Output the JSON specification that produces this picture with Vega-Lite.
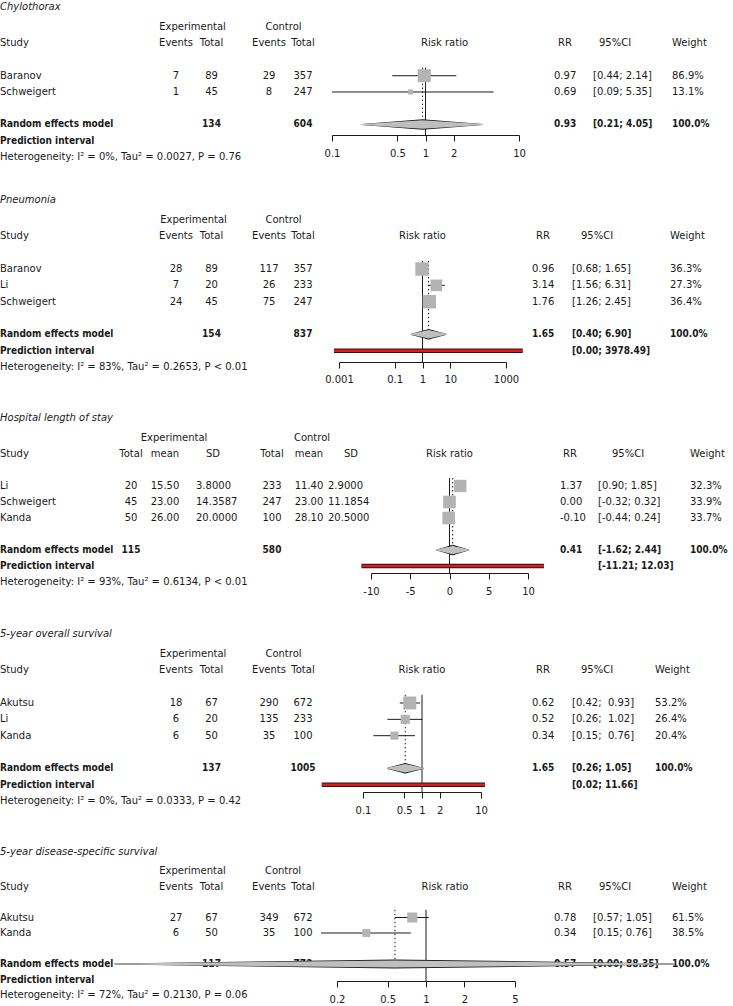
{
"$schema":"https://vega.github.io/schema/vega-lite/v6.json",
"padding":0,"background":"white","bounds":"flush","spacing":0,
"config":{"view":{"stroke":null},"font":"DejaVu Sans","text":{"font":"DejaVu Sans","fontSize":10,"color":"#1a1a1a"}},
"resolve":{"scale":{"size":"independent"}},
"vconcat":[
{
"width":733,"height":135,
"data":{"values":[
{"row":"title","label":"Chylothorax"},
{"row":"hdr1","e":"Experimental","c":"Control"},
{"row":"hdr2","label":"Study","e_ev":"Events","e_n":"Total","c_ev":"Events","c_n":"Total","rr":"RR","ci":"95%CI","w":"Weight","sm":"Risk ratio"},
{"row":"Baranov","label":"Baranov","e_ev":"7","e_n":"89","c_ev":"29","c_n":"357","rr":"0.97","ci":"[0.44; 2.14]","w":"86.9%","est":0.97,"lo":0.44,"hi":2.14,"weight":86.9},
{"row":"Schweigert","label":"Schweigert","e_ev":"1","e_n":"45","c_ev":"8","c_n":"247","rr":"0.69","ci":"[0.09; 5.35]","w":"13.1%","est":0.69,"lo":0.09,"hi":5.35,"weight":13.1},
{"row":"re","label":"Random effects model","e_n":"134","c_n":"604","rr":"0.93","ci":"[0.21; 4.05]","w":"100.0%","est":0.93,"lo":0.21,"hi":4.05},
{"row":"pi","label":"Prediction interval"},
{"row":"het","label":"Heterogeneity: I² = 0%, Tau² = 0.0027, P = 0.76"}
]},
"encoding":{"y":{"field":"row","type":"nominal","scale":{"type":"band","domain":["title","hdr1","hdr2","gap1","Baranov","Schweigert","gap2","re","pi","het"],"range":[2.6,165.1],"paddingInner":0,"paddingOuter":0},"axis":null}},
"resolve":{"scale":{"x":"independent","size":"independent"}},
"layer":[
{"transform":[{"fold":["label","w"],"as":["col","txt"]},{"filter":"isValid(datum.txt)"}],
 "encoding":{"x":{"field":"col","type":"nominal","scale":{"type":"point","domain":["label","w"],"range":[0,672],"padding":0},"axis":null},"text":{"field":"txt"}},
 "layer":[
  {"transform":[{"filter":{"not":{"field":"row","oneOf":["title","re","pi"]}}}],"mark":{"type":"text","align":"left"}},
  {"transform":[{"filter":{"field":"row","oneOf":["re","pi"]}}],"mark":{"type":"text","align":"left","fontWeight":"bold","font":"DejaVu Sans Condensed, DejaVu Sans"}},
  {"transform":[{"filter":{"field":"row","equal":"title"}}],"mark":{"type":"text","align":"left","fontStyle":"italic","dy":-4}}
 ]},
{"transform":[{"fold":["e","c"],"as":["col","txt"]},{"filter":"isValid(datum.txt)"}],"mark":{"type":"text"},
 "encoding":{"x":{"field":"col","type":"nominal","scale":{"type":"point","domain":["e","c"],"range":[192.5,283.5],"padding":0},"axis":null},"text":{"field":"txt"}}},
{"transform":[{"fold":["e_ev","e_n"],"as":["col","txt"]},{"filter":"isValid(datum.txt)"}],
 "encoding":{"x":{"field":"col","type":"nominal","scale":{"type":"point","domain":["e_ev","e_n"],"range":[176,211.5],"padding":0},"axis":null},"text":{"field":"txt"}},
 "layer":[
  {"transform":[{"filter":{"not":{"field":"row","equal":"re"}}}],"mark":{"type":"text"}},
  {"transform":[{"filter":{"field":"row","equal":"re"}}],"mark":{"type":"text","fontWeight":"bold","font":"DejaVu Sans Condensed, DejaVu Sans"}}
 ]},
{"transform":[{"fold":["c_ev","c_n"],"as":["col","txt"]},{"filter":"isValid(datum.txt)"}],
 "encoding":{"x":{"field":"col","type":"nominal","scale":{"type":"point","domain":["c_ev","c_n"],"range":[269,303],"padding":0},"axis":null},"text":{"field":"txt"}},
 "layer":[
  {"transform":[{"filter":{"not":{"field":"row","equal":"re"}}}],"mark":{"type":"text"}},
  {"transform":[{"filter":{"field":"row","equal":"re"}}],"mark":{"type":"text","fontWeight":"bold","font":"DejaVu Sans Condensed, DejaVu Sans"}}
 ]},
{"transform":[{"filter":{"field":"row","equal":"hdr2"}},{"fold":["rr","ci"],"as":["col","txt"]}],"mark":{"type":"text"},
 "encoding":{"x":{"field":"col","type":"nominal","scale":{"type":"point","domain":["rr","ci"],"range":[565,615],"padding":0},"axis":null},"text":{"field":"txt"}}},
{"transform":[{"filter":{"not":{"field":"row","equal":"hdr2"}}},{"fold":["rr","ci"],"as":["col","txt"]},{"filter":"isValid(datum.txt)"}],
 "encoding":{"x":{"field":"col","type":"nominal","scale":{"type":"point","domain":["rr","ci"],"range":[554,593],"padding":0},"axis":null},"text":{"field":"txt"}},
 "layer":[
  {"transform":[{"filter":{"not":{"field":"row","oneOf":["re","pi"]}}}],"mark":{"type":"text","align":"left"}},
  {"transform":[{"filter":{"field":"row","oneOf":["re","pi"]}}],"mark":{"type":"text","align":"left","fontWeight":"bold","font":"DejaVu Sans Condensed, DejaVu Sans"}}
 ]},
{"transform":[{"filter":{"field":"weight","valid":true}}],"mark":{"type":"rule","color":"#1a1a1a","strokeWidth":1},
 "encoding":{"x":{"field":"lo","type":"quantitative","scale":{"type":"log","domain":[0.1,10],"range":[332,519],"nice":false,"clamp":true},
  "axis":{"orient":"bottom","values":[0.1,0.5,1,2,10],"labelExpr":"'' + datum.value","title":null,"grid":false,"domainColor":"#1a1a1a","tickColor":"#1a1a1a","tickSize":6,"labelFontSize":10,"labelFont":"DejaVu Sans","labelColor":"#1a1a1a","labelPadding":7,"labelFlush":false,"labelOverlap":false}},
  "x2":{"field":"hi"}}},
{"layer":[
 {"transform":[{"filter":{"field":"row","equal":"re"}}],"mark":{"type":"rule","color":"#1a1a1a","strokeWidth":1},
  "encoding":{"x":{"datum":1,"type":"quantitative","scale":{"type":"log","domain":[0.1,10],"range":[332,519],"nice":false},"axis":null},"y":{"datum":"Baranov","type":"nominal","bandPosition":0},"y2":{"value":"height"}}},
 {"transform":[{"filter":{"field":"row","equal":"re"}}],"mark":{"type":"rule","color":"#1a1a1a","strokeWidth":1,"strokeDash":[1.5,2.5]},
  "encoding":{"x":{"field":"est","type":"quantitative","axis":null},"y":{"datum":"Baranov","type":"nominal","bandPosition":0},"y2":{"datum":"re"}}},
 {"transform":[{"filter":{"field":"row","equal":"re"}},{"fold":["lo","est","hi"],"as":["part","xv"]}],"mark":{"type":"trail","color":"#1a1a1a"},
  "encoding":{"x":{"field":"xv","type":"quantitative","axis":null},"size":{"condition":{"test":"datum.part === 'est'","value":10.5},"value":1.2}}},
 {"transform":[{"filter":{"field":"row","equal":"re"}},{"fold":["lo","est","hi"],"as":["part","xv"]}],"mark":{"type":"trail","color":"#bfbfbf"},
  "encoding":{"x":{"field":"xv","type":"quantitative","axis":null},"size":{"condition":{"test":"datum.part === 'est'","value":8.5},"value":0}}},
 {"transform":[{"filter":{"field":"weight","valid":true}}],"mark":{"type":"point","shape":"square","filled":true,"color":"#b3b3b3","opacity":1},
  "encoding":{"x":{"field":"est","type":"quantitative","axis":null},"size":{"field":"weight","type":"quantitative","scale":{"domain":[0,86.9],"range":[0,170]},"legend":null}}},
 {"transform":[{"filter":{"field":"row","equal":"hdr2"}}],"mark":{"type":"text"},
  "encoding":{"x":{"datum":1.6,"type":"quantitative","axis":null},"text":{"field":"sm"}}}
]}
]
},
{
"width":733,"height":227,
"data":{"values":[
{"row":"title","label":"Pneumonia"},
{"row":"hdr1","e":"Experimental","c":"Control"},
{"row":"hdr2","label":"Study","e_ev":"Events","e_n":"Total","c_ev":"Events","c_n":"Total","rr":"RR","ci":"95%CI","w":"Weight","sm":"Risk ratio"},
{"row":"Baranov","label":"Baranov","e_ev":"28","e_n":"89","c_ev":"117","c_n":"357","rr":"0.96","ci":"[0.68; 1.65]","w":"36.3%","est":0.96,"lo":0.68,"hi":1.65,"weight":36.3},
{"row":"Li","label":"Li","e_ev":"7","e_n":"20","c_ev":"26","c_n":"233","rr":"3.14","ci":"[1.56; 6.31]","w":"27.3%","est":3.14,"lo":1.56,"hi":6.31,"weight":27.3},
{"row":"Schweigert","label":"Schweigert","e_ev":"24","e_n":"45","c_ev":"75","c_n":"247","rr":"1.76","ci":"[1.26; 2.45]","w":"36.4%","est":1.76,"lo":1.26,"hi":2.45,"weight":36.4},
{"row":"re","label":"Random effects model","e_n":"154","c_n":"837","rr":"1.65","ci":"[0.40; 6.90]","w":"100.0%","est":1.65,"lo":0.40,"hi":6.90},
{"row":"pi","label":"Prediction interval","ci":"[0.00; 3978.49]","lo":0.00066,"hi":3978.49},
{"row":"het","label":"Heterogeneity: I² = 83%, Tau² = 0.2653, P < 0.01"}
]},
"encoding":{"y":{"field":"row","type":"nominal","scale":{"type":"band","domain":["title","hdr1","hdr2","gap1","Baranov","Li","Schweigert","gap2","re","pi","het"],"range":[60.5,240.2],"paddingInner":0,"paddingOuter":0},"axis":null}},
"resolve":{"scale":{"x":"independent","size":"independent"}},
"layer":[
{"transform":[{"fold":["label","w"],"as":["col","txt"]},{"filter":"isValid(datum.txt)"}],
 "encoding":{"x":{"field":"col","type":"nominal","scale":{"type":"point","domain":["label","w"],"range":[0,670],"padding":0},"axis":null},"text":{"field":"txt"}},
 "layer":[
  {"transform":[{"filter":{"not":{"field":"row","oneOf":["title","re","pi"]}}}],"mark":{"type":"text","align":"left"}},
  {"transform":[{"filter":{"field":"row","oneOf":["re","pi"]}}],"mark":{"type":"text","align":"left","fontWeight":"bold","font":"DejaVu Sans Condensed, DejaVu Sans"}},
  {"transform":[{"filter":{"field":"row","equal":"title"}}],"mark":{"type":"text","align":"left","fontStyle":"italic","dy":-4}}
 ]},
{"transform":[{"fold":["e","c"],"as":["col","txt"]},{"filter":"isValid(datum.txt)"}],"mark":{"type":"text"},
 "encoding":{"x":{"field":"col","type":"nominal","scale":{"type":"point","domain":["e","c"],"range":[193.5,283.5],"padding":0},"axis":null},"text":{"field":"txt"}}},
{"transform":[{"fold":["e_ev","e_n"],"as":["col","txt"]},{"filter":"isValid(datum.txt)"}],
 "encoding":{"x":{"field":"col","type":"nominal","scale":{"type":"point","domain":["e_ev","e_n"],"range":[176,211.5],"padding":0},"axis":null},"text":{"field":"txt"}},
 "layer":[
  {"transform":[{"filter":{"not":{"field":"row","equal":"re"}}}],"mark":{"type":"text"}},
  {"transform":[{"filter":{"field":"row","equal":"re"}}],"mark":{"type":"text","fontWeight":"bold","font":"DejaVu Sans Condensed, DejaVu Sans"}}
 ]},
{"transform":[{"fold":["c_ev","c_n"],"as":["col","txt"]},{"filter":"isValid(datum.txt)"}],
 "encoding":{"x":{"field":"col","type":"nominal","scale":{"type":"point","domain":["c_ev","c_n"],"range":[269,303],"padding":0},"axis":null},"text":{"field":"txt"}},
 "layer":[
  {"transform":[{"filter":{"not":{"field":"row","equal":"re"}}}],"mark":{"type":"text"}},
  {"transform":[{"filter":{"field":"row","equal":"re"}}],"mark":{"type":"text","fontWeight":"bold","font":"DejaVu Sans Condensed, DejaVu Sans"}}
 ]},
{"transform":[{"filter":{"field":"row","equal":"hdr2"}},{"fold":["rr","ci"],"as":["col","txt"]}],"mark":{"type":"text"},
 "encoding":{"x":{"field":"col","type":"nominal","scale":{"type":"point","domain":["rr","ci"],"range":[543,597],"padding":0},"axis":null},"text":{"field":"txt"}}},
{"transform":[{"filter":{"not":{"field":"row","equal":"hdr2"}}},{"fold":["rr","ci"],"as":["col","txt"]},{"filter":"isValid(datum.txt)"}],
 "encoding":{"x":{"field":"col","type":"nominal","scale":{"type":"point","domain":["rr","ci"],"range":[532,572],"padding":0},"axis":null},"text":{"field":"txt"}},
 "layer":[
  {"transform":[{"filter":{"not":{"field":"row","oneOf":["re","pi"]}}}],"mark":{"type":"text","align":"left"}},
  {"transform":[{"filter":{"field":"row","oneOf":["re","pi"]}}],"mark":{"type":"text","align":"left","fontWeight":"bold","font":"DejaVu Sans Condensed, DejaVu Sans"}}
 ]},
{"transform":[{"filter":{"field":"weight","valid":true}}],"mark":{"type":"rule","color":"#1a1a1a","strokeWidth":1},
 "encoding":{"x":{"field":"lo","type":"quantitative","scale":{"type":"log","domain":[0.001,1000],"range":[339,506],"nice":false},
  "axis":{"orient":"bottom","values":[0.001,0.1,1,10,1000],"labelExpr":"'' + datum.value","title":null,"grid":false,"domainColor":"#1a1a1a","tickColor":"#1a1a1a","tickSize":6,"labelFontSize":10,"labelFont":"DejaVu Sans","labelColor":"#1a1a1a","labelPadding":6,"labelFlush":false,"labelOverlap":false}},
  "x2":{"field":"hi"}}},
{"layer":[
 {"transform":[{"filter":{"field":"row","equal":"re"}}],"mark":{"type":"rule","color":"#1a1a1a","strokeWidth":1},
  "encoding":{"x":{"datum":1,"type":"quantitative","scale":{"type":"log","domain":[0.001,1000],"range":[339,506],"nice":false},"axis":null},"y":{"datum":"Baranov","type":"nominal","bandPosition":0},"y2":{"value":"height"}}},
 {"transform":[{"filter":{"field":"row","equal":"re"}}],"mark":{"type":"rule","color":"#1a1a1a","strokeWidth":1,"strokeDash":[1.5,2.5]},
  "encoding":{"x":{"field":"est","type":"quantitative","axis":null},"y":{"datum":"Baranov","type":"nominal","bandPosition":0},"y2":{"datum":"re"}}},
 {"transform":[{"filter":{"field":"row","equal":"pi"}}],"mark":{"type":"rule","color":"#1a1a1a","strokeWidth":4.5},
  "encoding":{"x":{"field":"lo","type":"quantitative","axis":null},"x2":{"field":"hi"}}},
 {"transform":[{"filter":{"field":"row","equal":"pi"}}],"mark":{"type":"rule","color":"#e3191c","strokeWidth":2.5},
  "encoding":{"x":{"field":"lo","type":"quantitative","axis":null},"x2":{"field":"hi"}}},
 {"transform":[{"filter":{"field":"row","equal":"re"}},{"fold":["lo","est","hi"],"as":["part","xv"]}],"mark":{"type":"trail","color":"#1a1a1a"},
  "encoding":{"x":{"field":"xv","type":"quantitative","axis":null},"size":{"condition":{"test":"datum.part === 'est'","value":10.5},"value":1.2}}},
 {"transform":[{"filter":{"field":"row","equal":"re"}},{"fold":["lo","est","hi"],"as":["part","xv"]}],"mark":{"type":"trail","color":"#bfbfbf"},
  "encoding":{"x":{"field":"xv","type":"quantitative","axis":null},"size":{"condition":{"test":"datum.part === 'est'","value":8.5},"value":0}}},
 {"transform":[{"filter":{"field":"weight","valid":true}}],"mark":{"type":"point","shape":"square","filled":true,"color":"#b3b3b3","opacity":1},
  "encoding":{"x":{"field":"est","type":"quantitative","axis":null},"size":{"field":"weight","type":"quantitative","scale":{"domain":[0,36.4],"range":[0,180]},"legend":null}}},
 {"transform":[{"filter":{"field":"row","equal":"hdr2"}}],"mark":{"type":"text"},
  "encoding":{"x":{"datum":1,"type":"quantitative","axis":null},"text":{"field":"sm"}}}
]}
]
},
{
"width":733,"height":211,
"data":{"values":[
{"row":"title","label":"Hospital length of stay"},
{"row":"hdr1","e":"Experimental","c":"Control"},
{"row":"hdr2","label":"Study","e_n":"Total","e_m":"mean","e_sd":"SD","c_n":"Total","c_m":"mean","c_sd":"SD","rr":"RR","ci":"95%CI","w":"Weight","sm":"Risk ratio"},
{"row":"Li","label":"Li","e_n":"20","e_m":"15.50","e_sd":"3.8000","c_n":"233","c_m":"11.40","c_sd":"2.9000","rr":"1.37","ci":"[0.90; 1.85]","w":"32.3%","est":1.37,"lo":0.90,"hi":1.85,"weight":32.3},
{"row":"Schweigert","label":"Schweigert","e_n":"45","e_m":"23.00","e_sd":"14.3587","c_n":"247","c_m":"23.00","c_sd":"11.1854","rr":"0.00","ci":"[-0.32; 0.32]","w":"33.9%","est":0.0,"lo":-0.32,"hi":0.32,"weight":33.9},
{"row":"Kanda","label":"Kanda","e_n":"50","e_m":"26.00","e_sd":"20.0000","c_n":"100","c_m":"28.10","c_sd":"20.5000","rr":"-0.10","ci":"[-0.44; 0.24]","w":"33.7%","est":-0.10,"lo":-0.44,"hi":0.24,"weight":33.7},
{"row":"re","label":"Random effects model","e_n":"115","c_n":"580","rr":"0.41","ci":"[-1.62; 2.44]","w":"100.0%","est":0.41,"lo":-1.62,"hi":2.44},
{"row":"pi","label":"Prediction interval","ci":"[-11.21; 12.03]","lo":-11.21,"hi":12.03},
{"row":"het","label":"Heterogeneity: I² = 93%, Tau² = 0.6134, P < 0.01"}
]},
"encoding":{"y":{"field":"row","type":"nominal","scale":{"type":"band","domain":["title","hdr1","hdr2","gap1","Li","Schweigert","Kanda","gap2","re","pi","het"],"range":[52,228],"paddingInner":0,"paddingOuter":0},"axis":null}},
"resolve":{"scale":{"x":"independent","size":"independent"}},
"layer":[
{"transform":[{"fold":["label","w"],"as":["col","txt"]},{"filter":"isValid(datum.txt)"}],
 "encoding":{"x":{"field":"col","type":"nominal","scale":{"type":"point","domain":["label","w"],"range":[0,690],"padding":0},"axis":null},"text":{"field":"txt"}},
 "layer":[
  {"transform":[{"filter":{"not":{"field":"row","oneOf":["title","re","pi"]}}}],"mark":{"type":"text","align":"left"}},
  {"transform":[{"filter":{"field":"row","oneOf":["re","pi"]}}],"mark":{"type":"text","align":"left","fontWeight":"bold","font":"DejaVu Sans Condensed, DejaVu Sans"}},
  {"transform":[{"filter":{"field":"row","equal":"title"}}],"mark":{"type":"text","align":"left","fontStyle":"italic","dy":-4}}
 ]},
{"transform":[{"fold":["e","c"],"as":["col","txt"]},{"filter":"isValid(datum.txt)"}],"mark":{"type":"text"},
 "encoding":{"x":{"field":"col","type":"nominal","scale":{"type":"point","domain":["e","c"],"range":[174,312],"padding":0},"axis":null},"text":{"field":"txt"}}},
{"transform":[{"fold":["e_n","e_m"],"as":["col","txt"]},{"filter":"isValid(datum.txt)"}],
 "encoding":{"x":{"field":"col","type":"nominal","scale":{"type":"point","domain":["e_n","e_m"],"range":[131,165],"padding":0},"axis":null},"text":{"field":"txt"}},
 "layer":[
  {"transform":[{"filter":{"not":{"field":"row","equal":"re"}}}],"mark":{"type":"text"}},
  {"transform":[{"filter":{"field":"row","equal":"re"}}],"mark":{"type":"text","fontWeight":"bold","font":"DejaVu Sans Condensed, DejaVu Sans"}}
 ]},
{"transform":[{"fold":["c_n","c_m"],"as":["col","txt"]},{"filter":"isValid(datum.txt)"}],
 "encoding":{"x":{"field":"col","type":"nominal","scale":{"type":"point","domain":["c_n","c_m"],"range":[272,309],"padding":0},"axis":null},"text":{"field":"txt"}},
 "layer":[
  {"transform":[{"filter":{"not":{"field":"row","equal":"re"}}}],"mark":{"type":"text"}},
  {"transform":[{"filter":{"field":"row","equal":"re"}}],"mark":{"type":"text","fontWeight":"bold","font":"DejaVu Sans Condensed, DejaVu Sans"}}
 ]},
{"transform":[{"filter":{"field":"row","equal":"hdr2"}},{"fold":["e_sd","c_sd"],"as":["col","txt"]}],"mark":{"type":"text"},
 "encoding":{"x":{"field":"col","type":"nominal","scale":{"type":"point","domain":["e_sd","c_sd"],"range":[213,351],"padding":0},"axis":null},"text":{"field":"txt"}}},
{"transform":[{"filter":{"not":{"field":"row","equal":"hdr2"}}},{"fold":["e_sd","c_sd"],"as":["col","txt"]},{"filter":"isValid(datum.txt)"}],"mark":{"type":"text","align":"left"},
 "encoding":{"x":{"field":"col","type":"nominal","scale":{"type":"point","domain":["e_sd","c_sd"],"range":[196,328],"padding":0},"axis":null},"text":{"field":"txt"}}},
{"transform":[{"filter":{"field":"row","equal":"hdr2"}},{"fold":["rr","ci"],"as":["col","txt"]}],"mark":{"type":"text"},
 "encoding":{"x":{"field":"col","type":"nominal","scale":{"type":"point","domain":["rr","ci"],"range":[570,628],"padding":0},"axis":null},"text":{"field":"txt"}}},
{"transform":[{"filter":{"not":{"field":"row","equal":"hdr2"}}},{"fold":["rr","ci"],"as":["col","txt"]},{"filter":"isValid(datum.txt)"}],
 "encoding":{"x":{"field":"col","type":"nominal","scale":{"type":"point","domain":["rr","ci"],"range":[560,598],"padding":0},"axis":null},"text":{"field":"txt"}},
 "layer":[
  {"transform":[{"filter":{"not":{"field":"row","oneOf":["re","pi"]}}}],"mark":{"type":"text","align":"left"}},
  {"transform":[{"filter":{"field":"row","oneOf":["re","pi"]}}],"mark":{"type":"text","align":"left","fontWeight":"bold","font":"DejaVu Sans Condensed, DejaVu Sans"}}
 ]},
{"transform":[{"filter":{"field":"weight","valid":true}}],"mark":{"type":"rule","color":"#1a1a1a","strokeWidth":1},
 "encoding":{"x":{"field":"lo","type":"quantitative","scale":{"type":"linear","domain":[-10,10],"range":[371,528],"nice":false,"zero":false},
  "axis":{"orient":"bottom","values":[-10,-5,0,5,10],"labelExpr":"'' + datum.value","title":null,"grid":false,"domainColor":"#1a1a1a","tickColor":"#1a1a1a","tickSize":6,"labelFontSize":10,"labelFont":"DejaVu Sans","labelColor":"#1a1a1a","labelPadding":7,"labelFlush":false,"labelOverlap":false}},
  "x2":{"field":"hi"}}},
{"layer":[
 {"transform":[{"filter":{"field":"row","equal":"re"}}],"mark":{"type":"rule","color":"#1a1a1a","strokeWidth":1},
  "encoding":{"x":{"datum":0,"type":"quantitative","scale":{"type":"linear","domain":[-10,10],"range":[371,528],"nice":false,"zero":false},"axis":null},"y":{"datum":"Li","type":"nominal","bandPosition":0},"y2":{"value":"height"}}},
 {"transform":[{"filter":{"field":"row","equal":"re"}}],"mark":{"type":"rule","color":"#1a1a1a","strokeWidth":1,"strokeDash":[1.5,2.5]},
  "encoding":{"x":{"field":"est","type":"quantitative","axis":null},"y":{"datum":"Li","type":"nominal","bandPosition":0},"y2":{"datum":"re"}}},
 {"transform":[{"filter":{"field":"row","equal":"pi"}}],"mark":{"type":"rule","color":"#1a1a1a","strokeWidth":4.5},
  "encoding":{"x":{"field":"lo","type":"quantitative","axis":null},"x2":{"field":"hi"}}},
 {"transform":[{"filter":{"field":"row","equal":"pi"}}],"mark":{"type":"rule","color":"#e3191c","strokeWidth":2.5},
  "encoding":{"x":{"field":"lo","type":"quantitative","axis":null},"x2":{"field":"hi"}}},
 {"transform":[{"filter":{"field":"row","equal":"re"}},{"fold":["lo","est","hi"],"as":["part","xv"]}],"mark":{"type":"trail","color":"#1a1a1a"},
  "encoding":{"x":{"field":"xv","type":"quantitative","axis":null},"size":{"condition":{"test":"datum.part === 'est'","value":10.5},"value":1.2}}},
 {"transform":[{"filter":{"field":"row","equal":"re"}},{"fold":["lo","est","hi"],"as":["part","xv"]}],"mark":{"type":"trail","color":"#bfbfbf"},
  "encoding":{"x":{"field":"xv","type":"quantitative","axis":null},"size":{"condition":{"test":"datum.part === 'est'","value":8.5},"value":0}}},
 {"transform":[{"filter":{"field":"weight","valid":true}}],"mark":{"type":"point","shape":"square","filled":true,"color":"#b3b3b3","opacity":1},
  "encoding":{"x":{"field":"est","type":"quantitative","axis":null},"size":{"field":"weight","type":"quantitative","scale":{"domain":[0,33.9],"range":[0,160]},"legend":null}}},
 {"transform":[{"filter":{"field":"row","equal":"hdr2"}}],"mark":{"type":"text"},
  "encoding":{"x":{"datum":0,"type":"quantitative","axis":null},"text":{"field":"sm"}}}
]}
]
},
{
"width":733,"height":219,
"data":{"values":[
{"row":"title","label":"5-year overall survival"},
{"row":"hdr1","e":"Experimental","c":"Control"},
{"row":"hdr2","label":"Study","e_ev":"Events","e_n":"Total","c_ev":"Events","c_n":"Total","rr":"RR","ci":"95%CI","w":"Weight","sm":"Risk ratio"},
{"row":"Akutsu","label":"Akutsu","e_ev":"18","e_n":"67","c_ev":"290","c_n":"672","rr":"0.62","ci":"[0.42; \u00a00.93]","w":"53.2%","est":0.62,"lo":0.42,"hi":0.93,"weight":53.2},
{"row":"Li","label":"Li","e_ev":"6","e_n":"20","c_ev":"135","c_n":"233","rr":"0.52","ci":"[0.26; \u00a01.02]","w":"26.4%","est":0.52,"lo":0.26,"hi":1.02,"weight":26.4},
{"row":"Kanda","label":"Kanda","e_ev":"6","e_n":"50","c_ev":"35","c_n":"100","rr":"0.34","ci":"[0.15; \u00a00.76]","w":"20.4%","est":0.34,"lo":0.15,"hi":0.76,"weight":20.4},
{"row":"re","label":"Random effects model","e_n":"137","c_n":"1005","rr":"1.65","ci":"[0.26; 1.05]","w":"100.0%","est":0.52,"lo":0.26,"hi":1.05},
{"row":"pi","label":"Prediction interval","ci":"[0.02; 11.66]","lo":0.02,"hi":11.66},
{"row":"het","label":"Heterogeneity: I² = 0%, Tau² = 0.0333, P = 0.42"}
]},
"encoding":{"y":{"field":"row","type":"nominal","scale":{"type":"band","domain":["title","hdr1","hdr2","gap1","Akutsu","Li","Kanda","gap2","re","pi","het"],"range":[56.5,236.2],"paddingInner":0,"paddingOuter":0},"axis":null}},
"resolve":{"scale":{"x":"independent","size":"independent"}},
"layer":[
{"transform":[{"fold":["label","w"],"as":["col","txt"]},{"filter":"isValid(datum.txt)"}],
 "encoding":{"x":{"field":"col","type":"nominal","scale":{"type":"point","domain":["label","w"],"range":[0,655],"padding":0},"axis":null},"text":{"field":"txt"}},
 "layer":[
  {"transform":[{"filter":{"not":{"field":"row","oneOf":["title","re","pi"]}}}],"mark":{"type":"text","align":"left"}},
  {"transform":[{"filter":{"field":"row","oneOf":["re","pi"]}}],"mark":{"type":"text","align":"left","fontWeight":"bold","font":"DejaVu Sans Condensed, DejaVu Sans"}},
  {"transform":[{"filter":{"field":"row","equal":"title"}}],"mark":{"type":"text","align":"left","fontStyle":"italic","dy":-4}}
 ]},
{"transform":[{"fold":["e","c"],"as":["col","txt"]},{"filter":"isValid(datum.txt)"}],"mark":{"type":"text"},
 "encoding":{"x":{"field":"col","type":"nominal","scale":{"type":"point","domain":["e","c"],"range":[193,283.5],"padding":0},"axis":null},"text":{"field":"txt"}}},
{"transform":[{"fold":["e_ev","e_n"],"as":["col","txt"]},{"filter":"isValid(datum.txt)"}],
 "encoding":{"x":{"field":"col","type":"nominal","scale":{"type":"point","domain":["e_ev","e_n"],"range":[176,211.5],"padding":0},"axis":null},"text":{"field":"txt"}},
 "layer":[
  {"transform":[{"filter":{"not":{"field":"row","equal":"re"}}}],"mark":{"type":"text"}},
  {"transform":[{"filter":{"field":"row","equal":"re"}}],"mark":{"type":"text","fontWeight":"bold","font":"DejaVu Sans Condensed, DejaVu Sans"}}
 ]},
{"transform":[{"fold":["c_ev","c_n"],"as":["col","txt"]},{"filter":"isValid(datum.txt)"}],
 "encoding":{"x":{"field":"col","type":"nominal","scale":{"type":"point","domain":["c_ev","c_n"],"range":[269,303],"padding":0},"axis":null},"text":{"field":"txt"}},
 "layer":[
  {"transform":[{"filter":{"not":{"field":"row","equal":"re"}}}],"mark":{"type":"text"}},
  {"transform":[{"filter":{"field":"row","equal":"re"}}],"mark":{"type":"text","fontWeight":"bold","font":"DejaVu Sans Condensed, DejaVu Sans"}}
 ]},
{"transform":[{"filter":{"field":"row","equal":"hdr2"}},{"fold":["rr","ci"],"as":["col","txt"]}],"mark":{"type":"text"},
 "encoding":{"x":{"field":"col","type":"nominal","scale":{"type":"point","domain":["rr","ci"],"range":[543,597],"padding":0},"axis":null},"text":{"field":"txt"}}},
{"transform":[{"filter":{"not":{"field":"row","equal":"hdr2"}}},{"fold":["rr","ci"],"as":["col","txt"]},{"filter":"isValid(datum.txt)"}],
 "encoding":{"x":{"field":"col","type":"nominal","scale":{"type":"point","domain":["rr","ci"],"range":[532,572],"padding":0},"axis":null},"text":{"field":"txt"}},
 "layer":[
  {"transform":[{"filter":{"not":{"field":"row","oneOf":["re","pi"]}}}],"mark":{"type":"text","align":"left"}},
  {"transform":[{"filter":{"field":"row","oneOf":["re","pi"]}}],"mark":{"type":"text","align":"left","fontWeight":"bold","font":"DejaVu Sans Condensed, DejaVu Sans"}}
 ]},
{"transform":[{"filter":{"field":"weight","valid":true}}],"mark":{"type":"rule","color":"#1a1a1a","strokeWidth":1},
 "encoding":{"x":{"field":"lo","type":"quantitative","scale":{"type":"log","domain":[0.1,10],"range":[363,481],"nice":false},
  "axis":{"orient":"bottom","values":[0.1,0.5,1,2,10],"labelExpr":"'' + datum.value","title":null,"grid":false,"domainColor":"#1a1a1a","tickColor":"#1a1a1a","tickSize":6,"labelFontSize":10,"labelFont":"DejaVu Sans","labelColor":"#1a1a1a","labelPadding":7,"labelFlush":false,"labelOverlap":false}},
  "x2":{"field":"hi"}}},
{"layer":[
 {"transform":[{"filter":{"field":"row","equal":"re"}}],"mark":{"type":"rule","color":"#1a1a1a","strokeWidth":1},
  "encoding":{"x":{"datum":1,"type":"quantitative","scale":{"type":"log","domain":[0.1,10],"range":[363,481],"nice":false},"axis":null},"y":{"datum":"Akutsu","type":"nominal","bandPosition":0},"y2":{"value":"height"}}},
 {"transform":[{"filter":{"field":"row","equal":"re"}}],"mark":{"type":"rule","color":"#1a1a1a","strokeWidth":1,"strokeDash":[1.5,2.5]},
  "encoding":{"x":{"field":"est","type":"quantitative","axis":null},"y":{"datum":"Akutsu","type":"nominal","bandPosition":0},"y2":{"datum":"re"}}},
 {"transform":[{"filter":{"field":"row","equal":"pi"}}],"mark":{"type":"rule","color":"#1a1a1a","strokeWidth":4.5},
  "encoding":{"x":{"field":"lo","type":"quantitative","axis":null},"x2":{"field":"hi"}}},
 {"transform":[{"filter":{"field":"row","equal":"pi"}}],"mark":{"type":"rule","color":"#e3191c","strokeWidth":2.5},
  "encoding":{"x":{"field":"lo","type":"quantitative","axis":null},"x2":{"field":"hi"}}},
 {"transform":[{"filter":{"field":"row","equal":"re"}},{"fold":["lo","est","hi"],"as":["part","xv"]}],"mark":{"type":"trail","color":"#1a1a1a"},
  "encoding":{"x":{"field":"xv","type":"quantitative","axis":null},"size":{"condition":{"test":"datum.part === 'est'","value":10.5},"value":1.2}}},
 {"transform":[{"filter":{"field":"row","equal":"re"}},{"fold":["lo","est","hi"],"as":["part","xv"]}],"mark":{"type":"trail","color":"#bfbfbf"},
  "encoding":{"x":{"field":"xv","type":"quantitative","axis":null},"size":{"condition":{"test":"datum.part === 'est'","value":8.5},"value":0}}},
 {"transform":[{"filter":{"field":"weight","valid":true}}],"mark":{"type":"point","shape":"square","filled":true,"color":"#b3b3b3","opacity":1},
  "encoding":{"x":{"field":"est","type":"quantitative","axis":null},"size":{"field":"weight","type":"quantitative","scale":{"domain":[0,53.2],"range":[0,169]},"legend":null}}},
 {"transform":[{"filter":{"field":"row","equal":"hdr2"}}],"mark":{"type":"text"},
  "encoding":{"x":{"datum":1,"type":"quantitative","axis":null},"text":{"field":"sm"}}}
]}
]
},
{
"width":733,"height":189,
"data":{"values":[
{"row":"title","label":"5-year disease-specific survival"},
{"row":"hdr1","e":"Experimental","c":"Control"},
{"row":"hdr2","label":"Study","e_ev":"Events","e_n":"Total","c_ev":"Events","c_n":"Total","rr":"RR","ci":"95%CI","w":"Weight","sm":"Risk ratio"},
{"row":"Akutsu","label":"Akutsu","e_ev":"27","e_n":"67","c_ev":"349","c_n":"672","rr":"0.78","ci":"[0.57; 1.05]","w":"61.5%","est":0.78,"lo":0.57,"hi":1.05,"weight":61.5},
{"row":"Kanda","label":"Kanda","e_ev":"6","e_n":"50","c_ev":"35","c_n":"100","rr":"0.34","ci":"[0.15; 0.76]","w":"38.5%","est":0.34,"lo":0.15,"hi":0.76,"weight":38.5},
{"row":"re","label":"Random effects model","e_n":"117","c_n":"772","rr":"0.57","ci":"[0.00; 88.35]","w":"100.0%","est":0.57,"lo":0.0036,"hi":88.35},
{"row":"pi","label":"Prediction interval"},
{"row":"het","label":"Heterogeneity: I² = 72%, Tau² = 0.2130, P = 0.06"}
]},
"encoding":{"y":{"field":"row","type":"nominal","scale":{"type":"band","domain":["title","hdr1","hdr2","gap1","Akutsu","Kanda","gap2","re","pi","het"],"range":[55.75,210.75],"paddingInner":0,"paddingOuter":0},"axis":null}},
"resolve":{"scale":{"x":"independent","size":"independent"}},
"layer":[
{"transform":[{"fold":["label","w"],"as":["col","txt"]},{"filter":"isValid(datum.txt)"}],
 "encoding":{"x":{"field":"col","type":"nominal","scale":{"type":"point","domain":["label","w"],"range":[0,672],"padding":0},"axis":null},"text":{"field":"txt"}},
 "layer":[
  {"transform":[{"filter":{"not":{"field":"row","oneOf":["title","re","pi"]}}}],"mark":{"type":"text","align":"left"}},
  {"transform":[{"filter":{"field":"row","oneOf":["re","pi"]}}],"mark":{"type":"text","align":"left","fontWeight":"bold","font":"DejaVu Sans Condensed, DejaVu Sans"}},
  {"transform":[{"filter":{"field":"row","equal":"title"}}],"mark":{"type":"text","align":"left","fontStyle":"italic","dy":-4}}
 ]},
{"transform":[{"fold":["e","c"],"as":["col","txt"]},{"filter":"isValid(datum.txt)"}],"mark":{"type":"text"},
 "encoding":{"x":{"field":"col","type":"nominal","scale":{"type":"point","domain":["e","c"],"range":[192.5,283],"padding":0},"axis":null},"text":{"field":"txt"}}},
{"transform":[{"fold":["e_ev","e_n"],"as":["col","txt"]},{"filter":"isValid(datum.txt)"}],
 "encoding":{"x":{"field":"col","type":"nominal","scale":{"type":"point","domain":["e_ev","e_n"],"range":[176,211.5],"padding":0},"axis":null},"text":{"field":"txt"}},
 "layer":[
  {"transform":[{"filter":{"not":{"field":"row","equal":"re"}}}],"mark":{"type":"text"}},
  {"transform":[{"filter":{"field":"row","equal":"re"}}],"mark":{"type":"text","fontWeight":"bold","font":"DejaVu Sans Condensed, DejaVu Sans"}}
 ]},
{"transform":[{"fold":["c_ev","c_n"],"as":["col","txt"]},{"filter":"isValid(datum.txt)"}],
 "encoding":{"x":{"field":"col","type":"nominal","scale":{"type":"point","domain":["c_ev","c_n"],"range":[269,303],"padding":0},"axis":null},"text":{"field":"txt"}},
 "layer":[
  {"transform":[{"filter":{"not":{"field":"row","equal":"re"}}}],"mark":{"type":"text"}},
  {"transform":[{"filter":{"field":"row","equal":"re"}}],"mark":{"type":"text","fontWeight":"bold","font":"DejaVu Sans Condensed, DejaVu Sans"}}
 ]},
{"transform":[{"filter":{"field":"row","equal":"hdr2"}},{"fold":["rr","ci"],"as":["col","txt"]}],"mark":{"type":"text"},
 "encoding":{"x":{"field":"col","type":"nominal","scale":{"type":"point","domain":["rr","ci"],"range":[565,615],"padding":0},"axis":null},"text":{"field":"txt"}}},
{"transform":[{"filter":{"not":{"field":"row","equal":"hdr2"}}},{"fold":["rr","ci"],"as":["col","txt"]},{"filter":"isValid(datum.txt)"}],
 "encoding":{"x":{"field":"col","type":"nominal","scale":{"type":"point","domain":["rr","ci"],"range":[554,593],"padding":0},"axis":null},"text":{"field":"txt"}},
 "layer":[
  {"transform":[{"filter":{"not":{"field":"row","oneOf":["re","pi"]}}}],"mark":{"type":"text","align":"left"}},
  {"transform":[{"filter":{"field":"row","oneOf":["re","pi"]}}],"mark":{"type":"text","align":"left","fontWeight":"bold","font":"DejaVu Sans Condensed, DejaVu Sans"}}
 ]},
{"transform":[{"filter":{"field":"weight","valid":true}}],"mark":{"type":"rule","color":"#1a1a1a","strokeWidth":1},
 "encoding":{"x":{"field":"lo","type":"quantitative","scale":{"type":"log","domain":[0.2,5],"range":[337,515],"nice":false},
  "axis":{"orient":"bottom","values":[0.2,0.5,1,2,5],"labelExpr":"'' + datum.value","title":null,"grid":false,"domainColor":"#1a1a1a","tickColor":"#1a1a1a","tickSize":6,"labelFontSize":10,"labelFont":"DejaVu Sans","labelColor":"#1a1a1a","labelPadding":7,"labelFlush":false,"labelOverlap":false}},
  "x2":{"field":"hi"}}},
{"layer":[
 {"transform":[{"filter":{"field":"row","equal":"re"}}],"mark":{"type":"rule","color":"#1a1a1a","strokeWidth":1},
  "encoding":{"x":{"datum":1,"type":"quantitative","scale":{"type":"log","domain":[0.2,5],"range":[337,515],"nice":false},"axis":null},"y":{"datum":"Akutsu","type":"nominal","bandPosition":0},"y2":{"value":"height"}}},
 {"transform":[{"filter":{"field":"row","equal":"re"}}],"mark":{"type":"rule","color":"#1a1a1a","strokeWidth":1,"strokeDash":[1.5,2.5]},
  "encoding":{"x":{"field":"est","type":"quantitative","axis":null},"y":{"datum":"Akutsu","type":"nominal","bandPosition":0},"y2":{"datum":"re"}}},
 {"transform":[{"filter":{"field":"row","equal":"re"}},{"fold":["lo","est","hi"],"as":["part","xv"]}],"mark":{"type":"trail","color":"#1a1a1a"},
  "encoding":{"x":{"field":"xv","type":"quantitative","axis":null},"size":{"condition":{"test":"datum.part === 'est'","value":9},"value":1.2}}},
 {"transform":[{"filter":{"field":"row","equal":"re"}},{"fold":["lo","est","hi"],"as":["part","xv"]}],"mark":{"type":"trail","color":"#bfbfbf"},
  "encoding":{"x":{"field":"xv","type":"quantitative","axis":null},"size":{"condition":{"test":"datum.part === 'est'","value":7},"value":0}}},
 {"transform":[{"filter":{"field":"weight","valid":true}}],"mark":{"type":"point","shape":"square","filled":true,"color":"#b3b3b3","opacity":1},
  "encoding":{"x":{"field":"est","type":"quantitative","axis":null},"size":{"field":"weight","type":"quantitative","scale":{"domain":[0,61.5],"range":[0,100]},"legend":null}}},
 {"transform":[{"filter":{"field":"row","equal":"hdr2"}}],"mark":{"type":"text"},
  "encoding":{"x":{"datum":1.41,"type":"quantitative","axis":null},"text":{"field":"sm"}}}
]}
]
}
]
}
